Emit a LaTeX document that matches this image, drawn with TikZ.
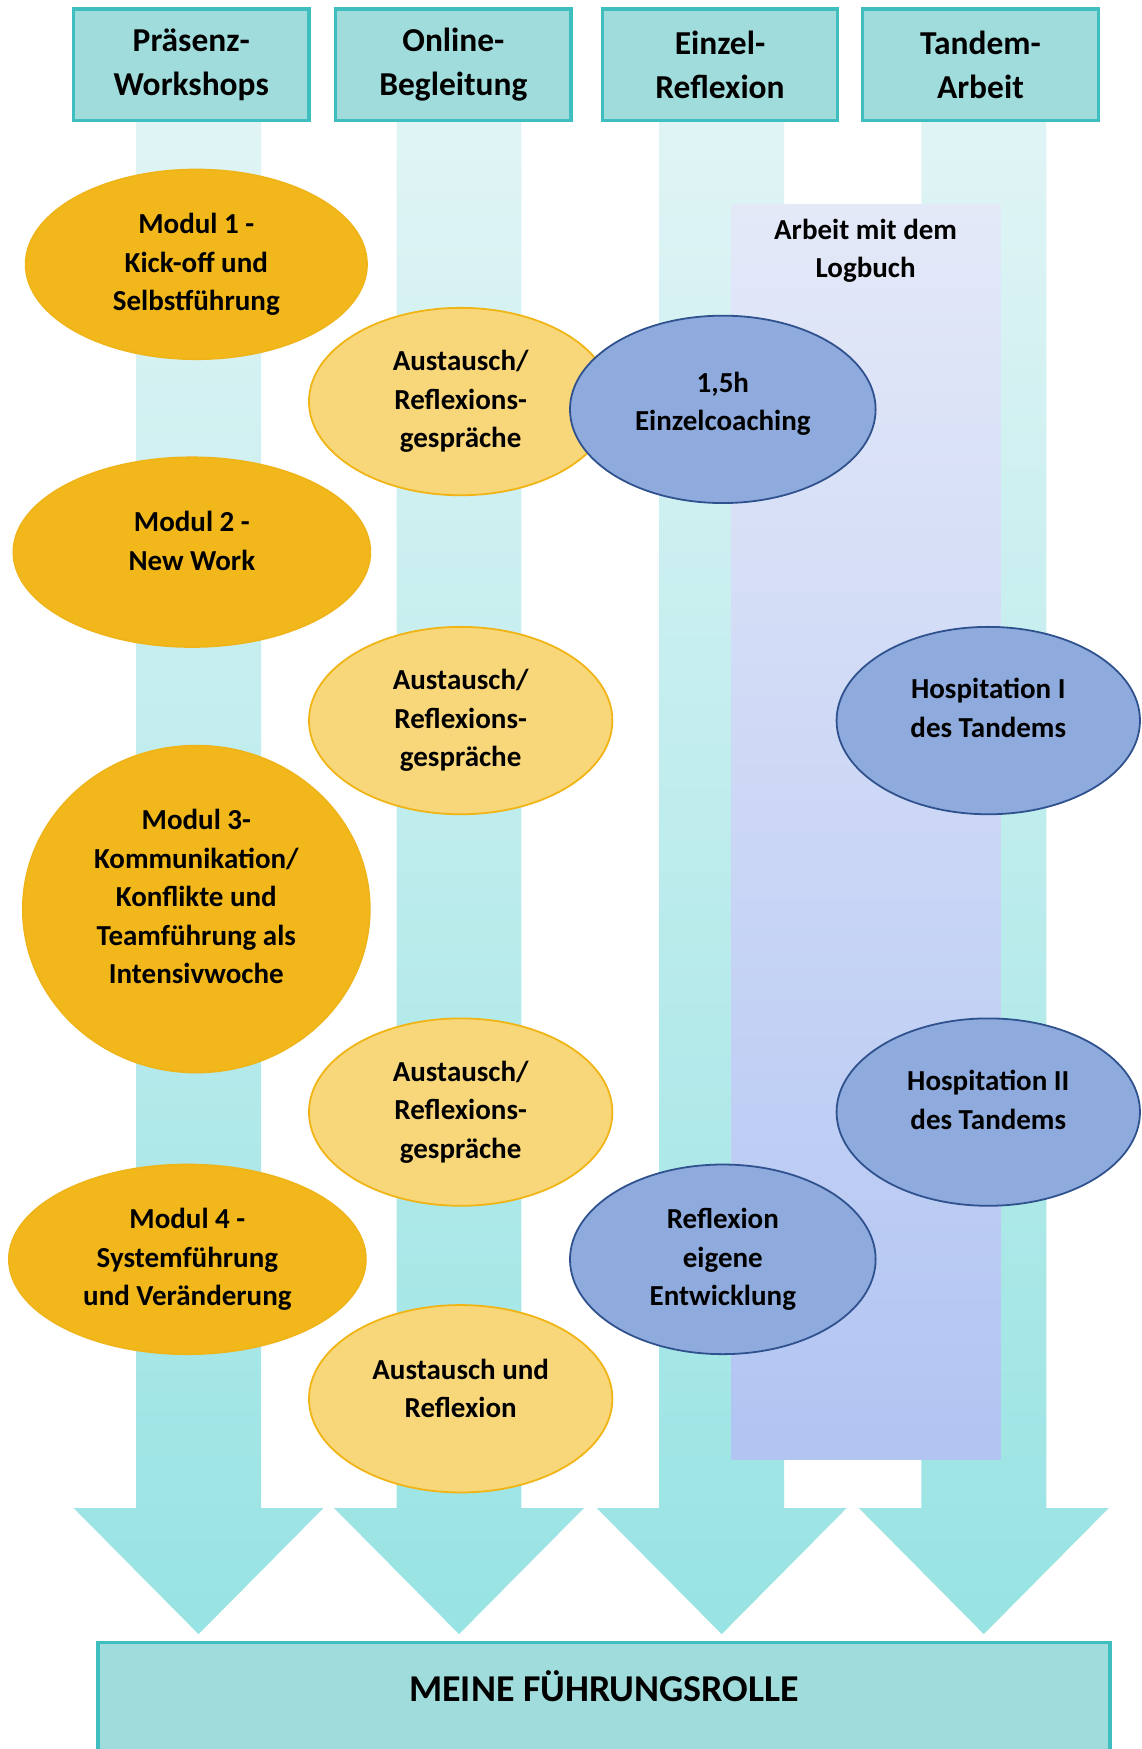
\documentclass[tikz,border=0pt]{standalone}
\usepackage{fontspec}
\setmainfont{Carlito}
\usetikzlibrary{shapes.geometric}
\definecolor{headfill}{RGB}{160,220,220}
\definecolor{headdraw}{RGB}{62,190,190}
\definecolor{shafttop}{RGB}{224,244,245}
\definecolor{shaftbot}{RGB}{152,227,227}
\definecolor{logtop}{RGB}{228,233,248}
\definecolor{logbot}{RGB}{177,196,242}
\definecolor{modfill}{RGB}{242,184,27}
\definecolor{moddraw}{RGB}{238,180,25}
\definecolor{ausfill}{RGB}{248,214,122}
\definecolor{ausdraw}{RGB}{240,180,20}
\definecolor{bluefill}{RGB}{143,170,220}
\definecolor{bluedraw}{RGB}{47,82,143}
\newcommand\headtext{\fontsize{30}{40}\selectfont\bfseries}
\newcommand\elltext{\fontsize{26}{34.5}\selectfont\bfseries}
\newcommand\liftlines[2]{\raisebox{#1}[\height][\depth]{\begin{tabular}{@{}c@{}}#2\end{tabular}}}
\begin{document}
\begin{tikzpicture}[x=1pt,y=-1pt,
  headbox/.style={rectangle,fill=headfill,draw=headdraw,line width=3pt,inner sep=0pt,align=center,font=\headtext,minimum height=100pt},
  ellbase/.style={ellipse,inner sep=0pt,align=center,font=\elltext,line width=1.6pt},
  modul/.style={ellbase,fill=modfill,draw=moddraw},
  austausch/.style={ellbase,fill=ausfill,draw=ausdraw,minimum width=272pt,minimum height=168pt},
  blueell/.style={ellbase,fill=bluefill,draw=bluedraw,minimum width=274pt,minimum height=168pt},
]
\useasboundingbox (0,0) rectangle (1023,1568);
\clip (0,0) rectangle (1023,1568);
\fill[white] (0,0) rectangle (1023,1568);

% arrows
\foreach \c in {178,411.5,647,882} {
  \shade[top color=shafttop,bottom color=shaftbot]
    (\c-56,108) -- (\c+56,108) -- (\c+56,1352) -- (\c+112,1352) -- (\c,1465)
    -- (\c-112,1352) -- (\c-56,1352) -- cycle;
}

% header boxes
\node[headbox,minimum width=211pt] (hd1) at (171.5,58) {Präsenz-\\Workshops};
\node[headbox,minimum width=211pt] (hd2) at (406.5,58) {Online-\\Begleitung};
\node[headbox,minimum width=211pt] (hd3) at (645.5,58) {Einzel-\\Reflexion};
\node[headbox,minimum width=212pt] (hd4) at (879,58) {Tandem-\\Arbeit};

% logbook band
\node[rectangle,inner sep=0pt,top color=logtop,bottom color=logbot,
      minimum width=241pt,minimum height=1125pt] (log) at (776.5,745.5) {};
\node[align=center,font=\elltext,inner sep=0pt] (logtxt) at (776,225) {Arbeit mit dem\\Logbuch};

% bottom box
\node[rectangle,fill=headfill,draw=headdraw,line width=3pt,inner sep=0pt,
      minimum width=907pt,minimum height=160pt,anchor=north] (ziel) at (541.5,1471) {};
\node[font=\fontsize{34}{40}\selectfont\bfseries,inner sep=0pt] (zieltxt) at (541.5,1512) {MEINE FÜHRUNGSROLLE};

% ellipses
\node[modul,minimum width=306pt,minimum height=170pt] (m1) at (176,237) {Modul 1 -\\Kick-off und\\Selbstführung};
\node[austausch] (a1) at (413,360) {Austausch/\\Reflexions-\\gespräche};
\node[blueell] (c1) at (648,367) {\liftlines{5pt}{1,5h\\Einzelcoaching}};
\node[modul,minimum width=320pt,minimum height=170pt] (m2) at (172,495) {\liftlines{8pt}{Modul 2 -\\New Work}};
\node[austausch] (a2) at (413,646) {Austausch/\\Reflexions-\\gespräche};
\node[blueell,minimum width=272pt] (hs1) at (886,646) {\liftlines{9pt}{Hospitation I\\des Tandems}};
\node[modul,minimum width=311pt,minimum height=293pt] (m3) at (176,815) {\liftlines{9pt}{Modul 3-\\Kommunikation/\\Konflikte und\\Teamführung als\\Intensivwoche}};
\node[austausch] (a3) at (413,997) {Austausch/\\Reflexions-\\gespräche};
\node[blueell,minimum width=272pt] (hs2) at (886,997) {\liftlines{9pt}{Hospitation II\\des Tandems}};
\node[modul,minimum width=320pt,minimum height=170pt] (m4) at (168,1129) {Modul 4 -\\Systemführung\\und Veränderung};
\node[blueell,minimum height=170pt] (r1) at (648,1129) {Reflexion\\eigene\\Entwicklung};
\node[austausch] (a4) at (413,1254) {\liftlines{7pt}{Austausch und\\Reflexion}};
\end{tikzpicture}
\end{document}
